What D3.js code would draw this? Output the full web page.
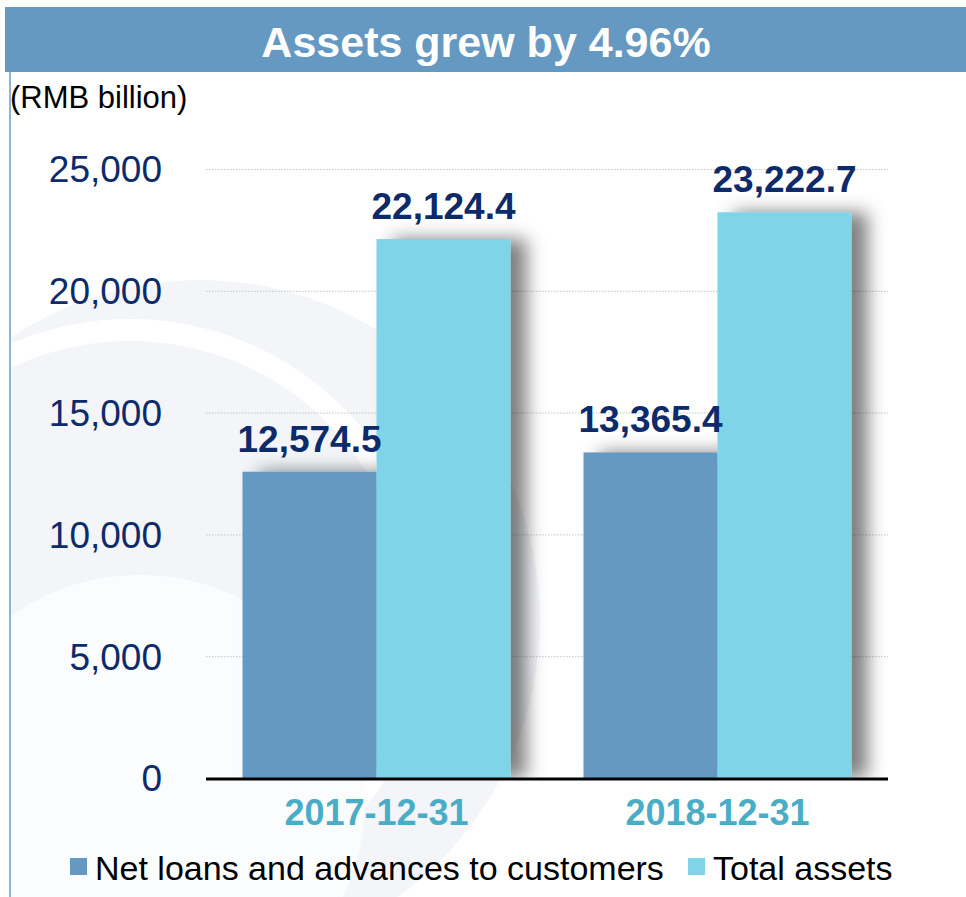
<!DOCTYPE html>
<html>
<head>
<meta charset="utf-8">
<script src="https://cdn.jsdelivr.net/npm/d3@7"></script>
<style>
  html, body { margin: 0; padding: 0; background: #fff; }
  svg { display: block; font-family: "Liberation Sans", Arial, sans-serif; }
</style>
</head>
<body>
<svg id="chart" width="966" height="897"></svg>
<script>
// Chart data
const title = "Assets grew by 4.96%";
const unitLabel = "(RMB billion)";
const categories = ["2017-12-31", "2018-12-31"];
const seriesNames = ["Net loans and advances to customers", "Total assets"];
const netLoans = [12574.5, 13365.4];
const totalAssets = [22124.4, 23222.7];
const yTicks = [0, 5000, 10000, 15000, 20000, 25000];

const colors = ["#6699c2", "#80d4e8"];
const navy = "#0d2b6b";

const svg = d3.select("#chart");
const W = 966, H = 897;
const plot = { left: 206, right: 888, top: 169, bottom: 778 };

// faint background emblem
const defs = svg.append("defs");
defs.append("clipPath").attr("id", "bgClip")
  .append("rect").attr("x", 10).attr("y", 72).attr("width", W - 10).attr("height", H - 72);
const bg = svg.append("g").attr("clip-path", "url(#bgClip)");
bg.append("circle").attr("cx", 200).attr("cy", 620).attr("r", 340).attr("fill", "#f3f5f9");
bg.append("circle").attr("cx", 130).attr("cy", 620).attr("r", 290)
  .attr("fill", "none").attr("stroke", "#fff").attr("stroke-width", 22);
bg.append("circle").attr("cx", 140).attr("cy", 800).attr("r", 225).attr("fill", "#fbfcfd");

// title band
svg.append("rect").attr("x", 5).attr("y", 7).attr("width", W - 5).attr("height", 65).attr("fill", "#6699c2");
svg.append("text").attr("x", 486).attr("y", 57).attr("text-anchor", "middle")
  .attr("fill", "#fff").attr("font-weight", "bold").attr("font-size", 43).text(title);

// left rule
svg.append("line").attr("x1", 10).attr("x2", 10).attr("y1", 72).attr("y2", H)
  .attr("stroke", "#8db3d9").attr("stroke-width", 2);

svg.append("text").attr("x", 10).attr("y", 108).attr("font-size", 31).attr("fill", "#000").text(unitLabel);

// scales
const y = d3.scaleLinear().domain([0, 25000]).range([plot.bottom, plot.top]);
const x0 = d3.scaleBand().domain(categories).range([plot.left, plot.right]).padding(0);
const groupW = 268;
const x1 = d3.scaleBand().domain(seriesNames).range([0, groupW]).padding(0);

// grid
const grid = svg.append("g").attr("transform", `translate(${plot.left},0)`)
  .call(d3.axisLeft(y).tickValues(yTicks.filter(v => v > 0)).tickSize(-(plot.right - plot.left)).tickFormat(""));
grid.select(".domain").remove();
grid.selectAll("line").attr("stroke", "#c4c4c4").attr("stroke-dasharray", "1.5,1.5").attr("stroke-width", 1);

// y labels
const yAxis = svg.append("g").attr("transform", `translate(${plot.left},0)`)
  .call(d3.axisLeft(y).tickValues(yTicks).tickSize(0).tickPadding(44).tickFormat(d3.format(",")));
yAxis.select(".domain").remove();
yAxis.selectAll("text").attr("font-size", 37).attr("fill", navy)
  .attr("font-family", "Liberation Sans, Arial, sans-serif").attr("dy", "0.35em");

// bar shadow filter
const f = defs.append("filter").attr("id", "shadow").attr("x", "-30%").attr("y", "-30%").attr("width", "160%").attr("height", "160%");
f.append("feDropShadow").attr("dx", 16).attr("dy", 0).attr("stdDeviation", 9)
  .attr("flood-color", "#000").attr("flood-opacity", 0.5);
defs.append("clipPath").attr("id", "plotClip")
  .append("rect").attr("x", 0).attr("y", 0).attr("width", W).attr("height", plot.bottom + 1);

const rows = categories.map((c, i) => ({ cat: c, vals: [netLoans[i], totalAssets[i]] }));
const barsLayer = svg.append("g").attr("clip-path", "url(#plotClip)");
const groups = barsLayer.selectAll("g.grp").data(rows).join("g").attr("class", "grp")
  .attr("transform", d => `translate(${x0(d.cat) + x0.bandwidth() / 2 - groupW / 2},0)`)
  .attr("filter", "url(#shadow)");
groups.selectAll("rect").data(d => d.vals.map((v, j) => ({ v, s: seriesNames[j], j })))
  .join("rect")
  .attr("x", d => x1(d.s)).attr("width", x1.bandwidth())
  .attr("y", d => y(d.v)).attr("height", d => y(0) - y(d.v))
  .attr("fill", d => colors[d.j]);

// value labels
const labels = svg.selectAll("g.lbl").data(rows).join("g").attr("class", "lbl")
  .attr("transform", d => `translate(${x0(d.cat) + x0.bandwidth() / 2 - groupW / 2},0)`);
labels.selectAll("text").data(d => d.vals.map((v, j) => ({ v, s: seriesNames[j] })))
  .join("text")
  .attr("x", d => x1(d.s) + x1.bandwidth() / 2).attr("y", d => y(d.v) - 20)
  .attr("text-anchor", "middle").attr("font-weight", "bold").attr("font-size", 37)
  .attr("fill", navy).text(d => d3.format(",.1f")(d.v));

// baseline
svg.append("line").attr("x1", plot.left).attr("x2", plot.right).attr("y1", y(0) + 1).attr("y2", y(0) + 1)
  .attr("stroke", "#000").attr("stroke-width", 3);

// category labels
const xAxis = svg.append("g").attr("transform", `translate(0,${plot.bottom})`)
  .call(d3.axisBottom(x0).tickSize(0).tickPadding(0));
xAxis.select(".domain").remove();
xAxis.selectAll("text").attr("y", 47).attr("dy", 0).attr("font-size", 36).attr("font-weight", "bold")
  .attr("fill", "#4aadc8").attr("font-family", "Liberation Sans, Arial, sans-serif");

// legend
const legendX = [70, 688];
const leg = svg.selectAll("g.leg").data(seriesNames).join("g").attr("class", "leg")
  .attr("transform", (d, i) => `translate(${legendX[i]},858)`);
leg.append("rect").attr("width", 17).attr("height", 17).attr("fill", (d, i) => colors[i]);
leg.append("text").attr("x", 25).attr("y", 22).attr("font-size", 34).attr("fill", "#000").text(d => d);
</script>
</body>
</html>
